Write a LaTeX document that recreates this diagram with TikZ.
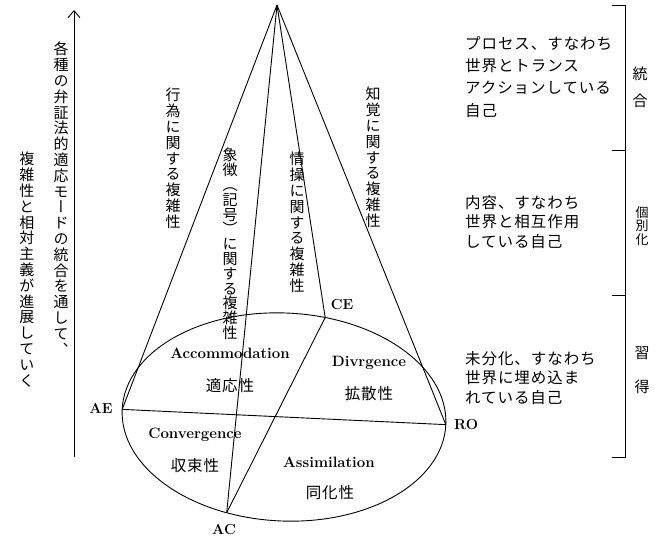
\documentclass[tikz,border=0pt]{standalone}
\usepackage{fontspec}
\usepackage{graphicx}
\usetikzlibrary{arrows.meta}
\newfontfamily\jp[LetterSpace=6]{Noto Sans CJK JP}
\newfontfamily\jpv[RawFeature=+vert]{Noto Sans CJK JP}
\ExplSyntaxOn
\NewDocumentCommand\vt{m}{
  \seq_clear:N \l_tmpa_seq
  \tl_map_inline:nn {#1} { \seq_put_right:Nn \l_tmpa_seq {##1} }
  \seq_use:Nn \l_tmpa_seq {\\}
}
\ExplSyntaxOff
\tikzset{
  ln/.style={line width=0.9pt},
  lab/.style={font=\bfseries\fontsize{15}{18}\selectfont, inner sep=0pt},
  pole/.style={font=\bfseries\fontsize{14.5}{18}\selectfont, inner sep=0pt},
  vjp/.style={font=\jpv\fontsize{15}{15.8}\selectfont, align=center, inner sep=0pt, anchor=north},
  hjp/.style={font=\jp\fontsize{15.5}{22.4}\selectfont, align=left, inner sep=0pt, anchor=north west},
  cjp/.style={font=\jp\fontsize{15.5}{18}\selectfont, inner sep=0pt},
}
\begin{document}
\begin{tikzpicture}[x=1pt,y=-1pt]
\useasboundingbox (0,0) rectangle (663,538);
% cone and ellipse
\coordinate (A) at (277,5);
\begin{scope}[shift={(284,417)}, rotate=-2.7]
  \draw[ln] (0,0) ellipse [x radius=162, y radius=104];
  \coordinate (AE) at (180:162 and 104);
  \coordinate (RO) at (0:162 and 104);
  \coordinate (CE) at (-77:162 and 104);
  \coordinate (AC) at (109:162 and 104);
\end{scope}
\draw[ln] (A) -- (AE);
\draw[ln] (A) -- (AC);
\draw[ln] (A) -- (CE);
\draw[ln] (A) -- (RO);
\draw[ln] (AE) -- (RO);
\draw[ln] (CE) -- (AC);
% pole labels
\node[pole] (lAE) at (101,408) {AE};
\node[pole] (lCE) at (342,305) {CE};
\node[pole] (lRO) at (466,425) {RO};
\node[pole] (lAC) at (224,530) {AC};
% quadrant labels
\node[lab] (acc) at (230,353) {Accommodation};
\node[cjp] (accj) at (230,386) {適応性};
\node[lab] (div) at (369,363) {Divrgence};
\node[cjp] (divj) at (369,394) {拡散性};
\node[lab] (con) at (195,435) {Convergence};
\node[cjp] (conj) at (195,466) {収束性};
\node[lab] (ass) at (329,462) {Assimilation};
\node[cjp] (assj) at (330,493) {同化性};
% cone vertical labels
\node[vjp] (v1) at (173,88) {\vt{行為に関する複雑性}};
\node[vjp, font=\jpv\fontsize{15}{14.8}\selectfont] (v2) at (230,148) {\vt{象徴（記号）に関する複雑性}};
\node[vjp] (v3) at (297,152) {\vt{情操に関する複雑性}};
\node[vjp] (v4) at (373,87) {\vt{知覚に関する複雑性}};
% left arrow and texts
\coordinate (arB) at (74,457);
\coordinate (arT) at (74,10);
\draw[ln, -{Straight Barb[length=7pt,width=12pt]}] (arB) -- (arT);
\node[vjp] (L1) at (61,42) {\vt{各種の弁証法的適応モードの統合を通して、}};
\node[vjp] (L2) at (27,152) {\vt{複雑性と相対主義が進展していく}};
% right texts
\node[hjp] (r1) at (465,36) {プロセス、すなわち\\世界とトランス\\アクションしている\\自己};
\node[hjp, font=\jp\fontsize{15.5}{19.6}\selectfont] (r2) at (465,195) {内容、すなわち\\世界と相互作用\\している自己};
\node[hjp, font=\jp\fontsize{15.5}{19.6}\selectfont] (r3) at (465,351) {未分化、すなわち\\世界に埋め込ま\\れている自己};
% bracket
\coordinate (b0) at (612,5);
\coordinate (b0r) at (625,5);
\coordinate (b3r) at (625,457);
\coordinate (b3) at (612,457);
\coordinate (b1) at (612,150);
\coordinate (b1r) at (625,150);
\coordinate (b2) at (612,295);
\coordinate (b2r) at (625,295);
\draw[ln] (b0) -- (b0r) -- (b3r) -- (b3);
\draw[ln] (b1) -- (b1r);
\draw[ln] (b2) -- (b2r);
\node[vjp, anchor=center, font=\jpv\fontsize{15}{27}\selectfont] (s1) at (640,87) {\vt{統合}};
\node[vjp, anchor=center, font=\jpv\fontsize{13}{13.8}\selectfont] (s2) at (642,226) {\vt{個別化}};
\node[vjp, anchor=center, font=\jpv\fontsize{15}{34}\selectfont] (s3) at (642,370) {\vt{習得}};
\end{tikzpicture}
\end{document}
